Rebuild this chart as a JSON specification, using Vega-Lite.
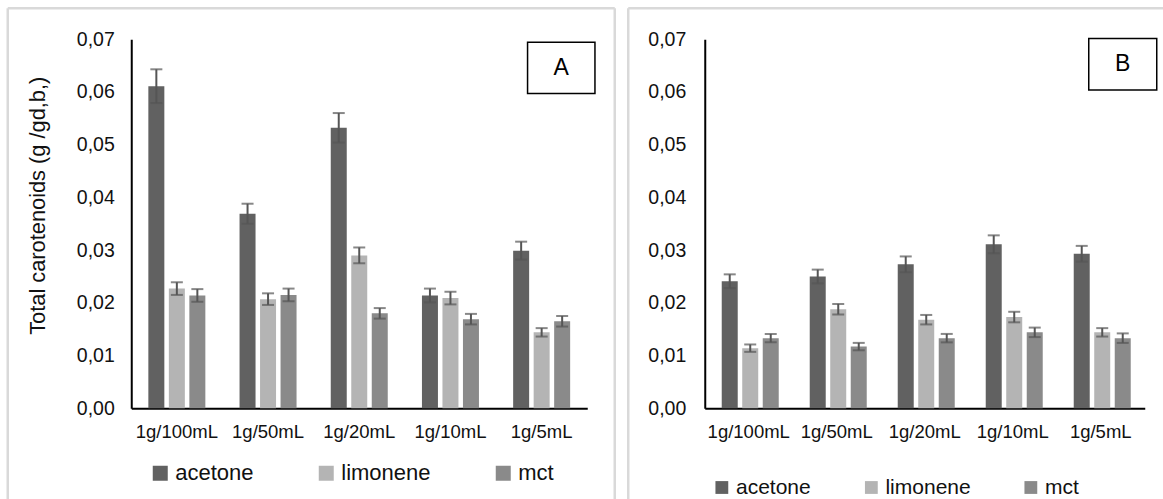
{
  "$schema": "https://vega.github.io/schema/vega-lite/v6.json",
  "padding": {"left": 6.25, "top": 6.25, "right": 0, "bottom": 0},
  "background": "white",
  "config": {
    "font": "Liberation Sans",
    "view": {"stroke": null},
    "concat": {"spacing": 10.5},
    "axis": {"grid": false, "ticks": false, "domainColor": "#000000", "domainWidth": 2, "labelColor": "#111111", "titleColor": "#111111", "labelFont": "Liberation Sans", "titleFont": "Liberation Sans", "titleFontWeight": "normal"},
    "legend": {"labelFont": "Liberation Sans", "labelColor": "#111111"}
  },
  "datasets": {
    "bars": [
      {"panel": "A", "conc": "1g/100mL", "solvent": "acetone", "value": 0.0611, "lo": 0.0579, "hi": 0.0643},
      {"panel": "A", "conc": "1g/100mL", "solvent": "limonene", "value": 0.0227, "lo": 0.0215, "hi": 0.0239},
      {"panel": "A", "conc": "1g/100mL", "solvent": "mct", "value": 0.0214, "lo": 0.0202, "hi": 0.0226},
      {"panel": "A", "conc": "1g/50mL", "solvent": "acetone", "value": 0.0369, "lo": 0.0350, "hi": 0.0388},
      {"panel": "A", "conc": "1g/50mL", "solvent": "limonene", "value": 0.0207, "lo": 0.0196, "hi": 0.0218},
      {"panel": "A", "conc": "1g/50mL", "solvent": "mct", "value": 0.0215, "lo": 0.0203, "hi": 0.0227},
      {"panel": "A", "conc": "1g/20mL", "solvent": "acetone", "value": 0.0532, "lo": 0.0504, "hi": 0.0560},
      {"panel": "A", "conc": "1g/20mL", "solvent": "limonene", "value": 0.0290, "lo": 0.0275, "hi": 0.0305},
      {"panel": "A", "conc": "1g/20mL", "solvent": "mct", "value": 0.0180, "lo": 0.0170, "hi": 0.0190},
      {"panel": "A", "conc": "1g/10mL", "solvent": "acetone", "value": 0.0214, "lo": 0.0201, "hi": 0.0227},
      {"panel": "A", "conc": "1g/10mL", "solvent": "limonene", "value": 0.0209, "lo": 0.0197, "hi": 0.0221},
      {"panel": "A", "conc": "1g/10mL", "solvent": "mct", "value": 0.0169, "lo": 0.0159, "hi": 0.0179},
      {"panel": "A", "conc": "1g/5mL", "solvent": "acetone", "value": 0.0299, "lo": 0.0282, "hi": 0.0316},
      {"panel": "A", "conc": "1g/5mL", "solvent": "limonene", "value": 0.0144, "lo": 0.0136, "hi": 0.0152},
      {"panel": "A", "conc": "1g/5mL", "solvent": "mct", "value": 0.0165, "lo": 0.0155, "hi": 0.0175},
      {"panel": "B", "conc": "1g/100mL", "solvent": "acetone", "value": 0.0241, "lo": 0.0228, "hi": 0.0254},
      {"panel": "B", "conc": "1g/100mL", "solvent": "limonene", "value": 0.0114, "lo": 0.0107, "hi": 0.0121},
      {"panel": "B", "conc": "1g/100mL", "solvent": "mct", "value": 0.0133, "lo": 0.0125, "hi": 0.0141},
      {"panel": "B", "conc": "1g/50mL", "solvent": "acetone", "value": 0.0250, "lo": 0.0237, "hi": 0.0263},
      {"panel": "B", "conc": "1g/50mL", "solvent": "limonene", "value": 0.0188, "lo": 0.0178, "hi": 0.0198},
      {"panel": "B", "conc": "1g/50mL", "solvent": "mct", "value": 0.0117, "lo": 0.0110, "hi": 0.0124},
      {"panel": "B", "conc": "1g/20mL", "solvent": "acetone", "value": 0.0273, "lo": 0.0258, "hi": 0.0288},
      {"panel": "B", "conc": "1g/20mL", "solvent": "limonene", "value": 0.0168, "lo": 0.0159, "hi": 0.0177},
      {"panel": "B", "conc": "1g/20mL", "solvent": "mct", "value": 0.0133, "lo": 0.0125, "hi": 0.0141},
      {"panel": "B", "conc": "1g/10mL", "solvent": "acetone", "value": 0.0311, "lo": 0.0294, "hi": 0.0328},
      {"panel": "B", "conc": "1g/10mL", "solvent": "limonene", "value": 0.0173, "lo": 0.0163, "hi": 0.0183},
      {"panel": "B", "conc": "1g/10mL", "solvent": "mct", "value": 0.0144, "lo": 0.0135, "hi": 0.0153},
      {"panel": "B", "conc": "1g/5mL", "solvent": "acetone", "value": 0.0293, "lo": 0.0278, "hi": 0.0308},
      {"panel": "B", "conc": "1g/5mL", "solvent": "limonene", "value": 0.0144, "lo": 0.0136, "hi": 0.0152},
      {"panel": "B", "conc": "1g/5mL", "solvent": "mct", "value": 0.0133, "lo": 0.0124, "hi": 0.0142}
    ]
  },
  "resolve": {"scale": {"color": "independent"}, "legend": {"color": "independent"}},
  "hconcat": [
    {
      "width": 456,
      "height": 369,
      "resolve": {"scale": {"x": "independent"}, "axis": {"x": "independent"}},
      "layer": [
        {
          "data": {"name": "bars"},
          "transform": [{"filter": "datum.panel === 'A'"}],
          "encoding": {
            "x": {"field": "conc", "type": "nominal", "sort": ["1g/100mL", "1g/50mL", "1g/20mL", "1g/10mL", "1g/5mL"], "scale": {"paddingInner": 0.375, "paddingOuter": 0.1875}, "axis": {"title": null, "labelAngle": 0, "labelFontSize": 18.5, "labelPadding": 14}},
            "xOffset": {"field": "solvent", "type": "nominal", "sort": ["acetone", "limonene", "mct"], "scale": {"paddingInner": 0.22, "paddingOuter": 0}}
          },
          "layer": [
            {
              "mark": {"type": "bar"},
              "encoding": {
                "y": {"field": "value", "type": "quantitative", "scale": {"domain": [0, 0.07], "nice": false}, "axis": {"title": "Total carotenoids (g /gd,b,)", "titleFontSize": 21.8, "titlePadding": 27, "titleY": 166, "labelFontSize": 19.5, "labelPadding": 17, "values": [0, 0.01, 0.02, 0.03, 0.04, 0.05, 0.06, 0.07], "labelExpr": "replace(format(datum.value, '.2f'), '.', ',')"}},
                "color": {"field": "solvent", "type": "nominal", "scale": {"domain": ["acetone", "limonene", "mct"], "range": ["#616161", "#b4b4b4", "#8a8a8a"]}, "legend": {"title": null, "orient": "none", "legendX": 18, "legendY": 423, "direction": "horizontal", "symbolType": "square", "symbolSize": 225, "symbolStrokeWidth": 0, "labelFontSize": 22, "labelOffset": 4, "columnPadding": 61, "padding": 0}}
              }
            },
            {
              "mark": {"type": "rule", "color": "#555555", "strokeWidth": 2},
              "encoding": {"y": {"field": "lo", "type": "quantitative"}, "y2": {"field": "hi"}}
            },
            {
              "mark": {"type": "tick", "color": "#555555", "thickness": 2, "size": 12},
              "encoding": {"y": {"field": "hi", "type": "quantitative"}}
            },
            {
              "mark": {"type": "tick", "color": "#555555", "thickness": 2, "size": 12},
              "encoding": {"y": {"field": "lo", "type": "quantitative"}}
            }
          ]
        },
        {
          "data": {"values": [{"label": "A"}]},
          "layer": [
            {
              "mark": {"type": "rule", "color": "#d9d9d9", "strokeWidth": 2.5},
              "encoding": {"x": {"datum": -0.27083, "type": "quantitative", "scale": {"domain": [0, 1], "nice": false, "zero": false}, "axis": null}, "y": {"datum": 0.075881, "type": "quantitative"}, "y2": {"datum": -0.0172}}
            },
            {
              "mark": {"type": "rule", "color": "#d9d9d9", "strokeWidth": 2.5},
              "encoding": {"x": {"datum": 1.06031, "type": "quantitative"}, "y": {"datum": 0.075881, "type": "quantitative"}, "y2": {"datum": -0.0172}}
            },
            {
              "mark": {"type": "rule", "color": "#d9d9d9", "strokeWidth": 2.5},
              "encoding": {"x": {"datum": -0.27083, "type": "quantitative"}, "x2": {"datum": 1.06031}, "y": {"datum": 0.075881, "type": "quantitative"}}
            },
            {
              "mark": {"type": "rect", "fill": "white", "stroke": "#000000", "strokeWidth": 1.5},
              "encoding": {"x": {"datum": 0.8691, "type": "quantitative"}, "x2": {"datum": 1.0169}, "y": {"datum": 0.069431, "type": "quantitative"}, "y2": {"datum": 0.059718}}
            },
            {
              "mark": {"type": "text", "fontSize": 23, "color": "#000000", "align": "center", "baseline": "middle"},
              "encoding": {"x": {"datum": 0.943, "type": "quantitative"}, "y": {"datum": 0.064593, "type": "quantitative"}, "text": {"field": "label"}}
            }
          ]
        }
      ]
    },
    {
      "width": 440,
      "height": 369,
      "resolve": {"scale": {"x": "independent"}, "axis": {"x": "independent"}},
      "layer": [
        {
          "data": {"name": "bars"},
          "transform": [{"filter": "datum.panel === 'B'"}],
          "encoding": {
            "x": {"field": "conc", "type": "nominal", "sort": ["1g/100mL", "1g/50mL", "1g/20mL", "1g/10mL", "1g/5mL"], "scale": {"paddingInner": 0.386, "paddingOuter": 0.193}, "axis": {"title": null, "labelAngle": 0, "labelFontSize": 18.5, "labelPadding": 14}},
            "xOffset": {"field": "solvent", "type": "nominal", "sort": ["acetone", "limonene", "mct"], "scale": {"paddingInner": 0.23, "paddingOuter": 0}}
          },
          "layer": [
            {
              "mark": {"type": "bar"},
              "encoding": {
                "y": {"field": "value", "type": "quantitative", "scale": {"domain": [0, 0.07], "nice": false}, "axis": {"title": null, "labelFontSize": 19.5, "labelPadding": 19, "values": [0, 0.01, 0.02, 0.03, 0.04, 0.05, 0.06, 0.07], "labelExpr": "replace(format(datum.value, '.2f'), '.', ',')"}},
                "color": {"field": "solvent", "type": "nominal", "scale": {"domain": ["acetone", "limonene", "mct"], "range": ["#616161", "#b4b4b4", "#8a8a8a"]}, "legend": {"title": null, "orient": "none", "legendX": 6.6, "legendY": 437.5, "direction": "horizontal", "symbolType": "square", "symbolSize": 164, "symbolStrokeWidth": 0, "labelFontSize": 21, "labelOffset": 3.6, "columnPadding": 49.5, "padding": 0}}
              }
            },
            {
              "mark": {"type": "rule", "color": "#555555", "strokeWidth": 2},
              "encoding": {"y": {"field": "lo", "type": "quantitative"}, "y2": {"field": "hi"}}
            },
            {
              "mark": {"type": "tick", "color": "#555555", "thickness": 2, "size": 12},
              "encoding": {"y": {"field": "hi", "type": "quantitative"}}
            },
            {
              "mark": {"type": "tick", "color": "#555555", "thickness": 2, "size": 12},
              "encoding": {"y": {"field": "lo", "type": "quantitative"}}
            }
          ]
        },
        {
          "data": {"values": [{"label": "B"}]},
          "layer": [
            {
              "mark": {"type": "rule", "color": "#d9d9d9", "strokeWidth": 2.5},
              "encoding": {"x": {"datum": -0.17386, "type": "quantitative", "scale": {"domain": [0, 1], "nice": false, "zero": false}, "axis": null}, "y": {"datum": 0.075881, "type": "quantitative"}, "y2": {"datum": -0.0172}}
            },
            {
              "mark": {"type": "rule", "color": "#d9d9d9", "strokeWidth": 2.5},
              "encoding": {"x": {"datum": -0.17386, "type": "quantitative"}, "x2": {"datum": 1.04318}, "y": {"datum": 0.075881, "type": "quantitative"}}
            },
            {
              "mark": {"type": "rect", "fill": "white", "stroke": "#000000", "strokeWidth": 1.5},
              "encoding": {"x": {"datum": 0.87273, "type": "quantitative"}, "x2": {"datum": 1.02727}, "y": {"datum": 0.070152, "type": "quantitative"}, "y2": {"datum": 0.060363}}
            },
            {
              "mark": {"type": "text", "fontSize": 23, "color": "#000000", "align": "center", "baseline": "middle"},
              "encoding": {"x": {"datum": 0.95, "type": "quantitative"}, "y": {"datum": 0.065257, "type": "quantitative"}, "text": {"field": "label"}}
            }
          ]
        }
      ]
    }
  ]
}
